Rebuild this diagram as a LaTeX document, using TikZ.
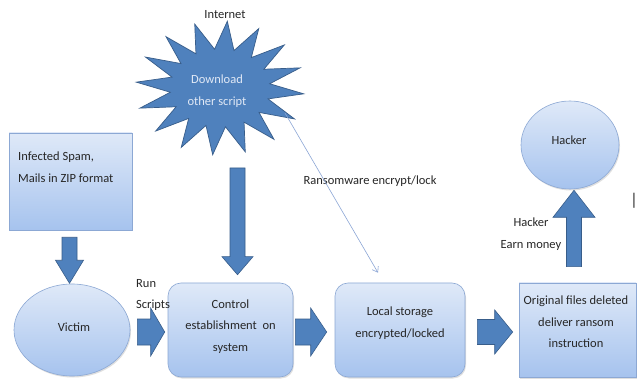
\documentclass[tikz,border=0pt]{standalone}
\usepackage{fontspec}
\setmainfont{Carlito}
\usetikzlibrary{calc,shapes.geometric,shadows,arrows.meta}
\definecolor{boxtop}{RGB}{223,233,248}
\definecolor{boxbot}{RGB}{166,195,238}
\definecolor{boxedge}{RGB}{140,168,212}
\definecolor{arrfill}{RGB}{79,129,189}
\definecolor{arredge}{RGB}{56,93,138}
\definecolor{txtcol}{RGB}{38,38,38}
\definecolor{thinblue}{RGB}{140,166,214}
\definecolor{startxt}{RGB}{225,233,246}
\tikzset{
  bsw/.store in=\bsw, bhw/.store in=\bhw, bhl/.store in=\bhl,
  bsw=7.5pt, bhw=14pt, bhl=20pt,
  blockarrow/.style={draw=arredge, fill=arrfill, line width=0.6pt, line join=miter,
    to path={let \p1=(\tikztostart), \p2=(\tikztotarget),
      \n1={atan2(\y2-\y1,\x2-\x1)}, \p3=($(\p2)!\bhl!(\p1)$) in
      ([shift={(\n1+90:\bsw)}]\p1) -- ([shift={(\n1+90:\bsw)}]\p3)
      -- ([shift={(\n1+90:\bhw)}]\p3) -- (\p2)
      -- ([shift={(\n1-90:\bhw)}]\p3) -- ([shift={(\n1-90:\bsw)}]\p3)
      -- ([shift={(\n1-90:\bsw)}]\p1) -- cycle}},
  box/.style={draw=boxedge, line width=0.6pt, top color=boxtop, bottom color=boxbot,
    drop shadow={shadow xshift=1pt, shadow yshift=-1.5pt, opacity=0.25},
    inner sep=0pt},
  rbox/.style={box, rounded corners=13pt},
  oval/.style={box, ellipse},
  txt/.style={text=txtcol, font=\fontsize{12.5}{21.5}\selectfont, align=center, inner sep=0pt},
  starsty/.style={draw=arredge, fill=arrfill, line width=0.7pt, line join=miter},
  thinarrow/.style={draw=thinblue, line width=0.6pt, -{Straight Barb[length=5pt,width=7pt]}}
}
\begin{document}
\begin{tikzpicture}[x=1pt,y=-1pt]
\useasboundingbox (0,0) rectangle (637,379);
\fill[white] (0,0) rectangle (637,379);

% star
\draw[starsty] ({220+84*cos(62.5)},{88-67*sin(62.5)})
  \foreach \a in {0,...,15} {
    -- ({220+50*cos(62.5+22.5*\a+11.25)},{88-39*sin(62.5+22.5*\a+11.25)})
    -- ({220+84*cos(62.5+22.5*(\a+1))},{88-67*sin(62.5+22.5*(\a+1))})
  } -- cycle;
\node[txt, text=startxt] (dl) at (217,91) {Download\\other script};
\coordinate (spike) at (285,113);
\coordinate (starbot) at (237.5,168);
\node[txt] (internet) at (225,15) {Internet};

% boxes
\node[box, minimum width=123pt, minimum height=97pt] (spam) at (70.5,181.5) {};
\node[txt, anchor=west, align=left] (spamtxt) at (18,167) {Infected Spam,\\Mails in ZIP format};

\node[oval, minimum width=116pt, minimum height=92pt] (victim) at (72,330) {};
\node[txt] (victimtxt) at (74,327) {Victim};

\node[rbox, minimum width=125pt, minimum height=94pt] (control) at (230.5,330) {};
\node[txt] (controltxt) at (230.5,326.5) {Control\\establishment\ \ on\\system};

\node[rbox, minimum width=130pt, minimum height=94pt] (local) at (400,330) {};
\node[txt] (localtxt) at (400,323) {Local storage\\encrypted/locked};

\node[box, minimum width=117pt, minimum height=94pt] (original) at (577.5,330) {};
\node[txt] (origtxt) at (576,322) {Original files deleted\\deliver ransom\\instruction};

\node[oval, minimum width=98pt, minimum height=88pt] (hacker) at (570,145) {};
\node[txt] (hackertxt) at (569,140) {Hacker};

% labels
\node[txt, anchor=west, align=left] (run) at (136,295) {Run\\Scripts};
\node[txt] (earn) at (531,234) {Hacker\\Earn money};
\node[txt] (ransom) at (370,181) {Ransomware encrypt/lock};
\node[text=black!80, font=\fontsize{17}{17}\selectfont, inner sep=0pt] (bar) at (634,201) {|};

% block arrows
\draw[blockarrow, bsw=7.5pt, bhw=14pt, bhl=23pt]
  ($(spam.south)+(-1,7)$) to ($(spam.south)+(-1,53)$);
\draw[blockarrow, bsw=13pt, bhw=24pt, bhl=14pt]
  ($(victim.east)+(7,2)$) to ($(control.west)+(-3,2)$);
\draw[blockarrow, bsw=7.5pt, bhw=15.5pt, bhl=18pt]
  (starbot) to ($(control.north -| starbot)+(0,-8)$);
\draw[blockarrow, bsw=13pt, bhw=24pt, bhl=16pt]
  ($(control.east)+(2,2)$) to ($(local.west)+(-8,2)$);
\draw[blockarrow, bsw=12.5pt, bhw=22pt, bhl=18pt]
  ($(local.east)+(12,2)$) to ($(original.west)+(-6,2)$);
\draw[blockarrow, bsw=7.5pt, bhw=21pt, bhl=27pt]
  ($(original.north)+(-3.5,-16)$) to ($(hacker.south)+(4,1)$);

% thin arrow
\draw[thinarrow] (spike) -- ($(local.north)+(-22,-10)$);
\end{tikzpicture}
\end{document}
